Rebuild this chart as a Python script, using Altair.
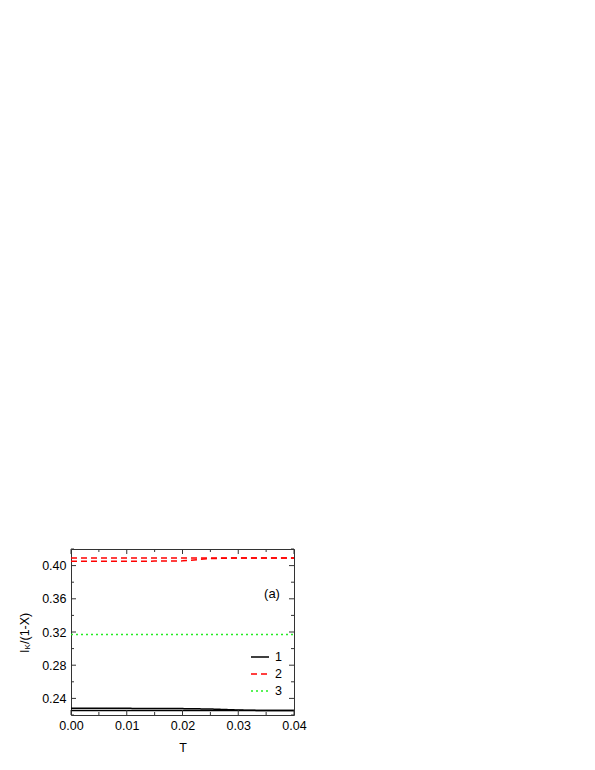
import altair as alt
import pandas as pd

# ---- data ----
T_vals = [0.000, 0.005, 0.010, 0.015, 0.020, 0.025, 0.030, 0.035, 0.040]
black_upper = [0.2281, 0.2281, 0.2280, 0.2279, 0.2277, 0.2272, 0.2260, 0.2253, 0.2253]
black_lower = [0.2253, 0.2253, 0.2253, 0.2253, 0.2253, 0.2253, 0.2253, 0.2253, 0.2253]
red_upper = [0.4092, 0.4092, 0.4092, 0.4092, 0.4092, 0.4092, 0.4092, 0.4092, 0.4092]
red_lower = [0.4052, 0.4052, 0.4053, 0.4054, 0.4057, 0.4085, 0.4092, 0.4092, 0.4092]
green_line = [0.3170, 0.3170, 0.3170, 0.3170, 0.3170, 0.3170, 0.3170, 0.3170, 0.3170]

series_names = ["1", "2", "3"]
series_colors = ["#000000", "#ff0000", "#22ee22"]
series_dashes = [[1, 0], [6, 4], [2, 3]]
series_widths = [1.5, 1.5, 2.2]

x_major = [0.00, 0.01, 0.02, 0.03, 0.04]
x_minor = [0.005, 0.015, 0.025, 0.035]
y_major = [0.24, 0.28, 0.32, 0.36, 0.40]
y_minor = [0.22, 0.26, 0.30, 0.34, 0.38, 0.42]

FONT = "Liberation Sans"
W, H = 223, 166

rows = []
for s, br, vals in [("1", "a", black_upper), ("1", "b", black_lower),
                    ("2", "a", red_upper), ("2", "b", red_lower),
                    ("3", "a", green_line)]:
    for t, v in zip(T_vals, vals):
        rows.append({"T": t, "v": v, "series": s, "branch": br})
df = pd.DataFrame(rows)

xscale = alt.Scale(domain=[0.0, 0.04], nice=False, zero=False)
yscale = alt.Scale(domain=[0.22, 0.42], nice=False, zero=False)

x_axis = alt.Axis(values=x_major, format=".2f", ticks=False, tickSize=0,
                  domain=False, grid=False, labelFont=FONT, labelFontSize=12.5,
                  labelColor="black", labelPadding=4, labelFlush=False,
                  labelOverlap=False, titleFont=FONT,
                  titleFontSize=12.5, titleFontWeight="normal",
                  titleColor="black", titlePadding=10)
y_axis = alt.Axis(values=y_major, format=".2f", ticks=False, tickSize=0,
                  domain=False, grid=False, labelFont=FONT, labelFontSize=12.5,
                  labelColor="black", labelPadding=5, labelFlush=False,
                  labelOverlap=False)

leg = alt.Legend(orient="none", legendX=179, legendY=98, title=None,
                 symbolType="stroke", symbolSize=324, symbolStrokeWidth=1.6,
                 labelFont=FONT, labelFontSize=12.5, labelColor="black",
                 labelOffset=5, rowPadding=0, padding=0)

lines = alt.Chart(df).mark_line().encode(
    x=alt.X("T:Q", scale=xscale, title="T", axis=x_axis),
    y=alt.Y("v:Q", scale=yscale, title=None, axis=y_axis),
    color=alt.Color("series:N", scale=alt.Scale(domain=series_names, range=series_colors),
                    legend=leg),
    strokeDash=alt.StrokeDash("series:N",
                              scale=alt.Scale(domain=series_names, range=series_dashes),
                              legend=leg),
    strokeWidth=alt.StrokeWidth("series:N",
                                scale=alt.Scale(domain=series_names, range=series_widths),
                                legend=None),
    detail="branch:N",
)

tick_color = "#333333"
xmaj = pd.DataFrame({"T": x_major})
xmin = pd.DataFrame({"T": x_minor})
ymaj = pd.DataFrame({"v": y_major})
ymin = pd.DataFrame({"v": y_minor})

def xticks(d, y0, y1):
    return alt.Chart(d).mark_rule(color=tick_color, strokeWidth=1).encode(
        x=alt.X("T:Q", scale=xscale, title="T", axis=x_axis),
        y=alt.value(y0), y2=alt.value(y1))

def yticks(d, x0, x1):
    return alt.Chart(d).mark_rule(color=tick_color, strokeWidth=1).encode(
        y=alt.Y("v:Q", scale=yscale, title=None, axis=y_axis),
        x=alt.value(x0), x2=alt.value(x1))

ticks = [
    xticks(xmaj, H, H - 5), xticks(xmin, H, H - 3),
    xticks(xmaj, 0, 5), xticks(xmin, 0, 3),
    yticks(ymaj, 0, 5), yticks(ymin, 0, 3),
    yticks(ymaj, W, W - 5), yticks(ymin, W, W - 3),
]

one = pd.DataFrame({"k": [0]})
label_a = alt.Chart(one).mark_text(font=FONT, fontSize=13, color="black").encode(
    x=alt.value(201), y=alt.value(45), text=alt.value("(a)"))

t_I = alt.Chart(one).mark_text(font=FONT, fontSize=12.5, color="black", angle=270,
                               align="left", baseline="middle").encode(
    x=alt.value(-46), y=alt.value(104), text=alt.value("I"))
t_K = alt.Chart(one).mark_text(font=FONT, fontSize=8, color="black", angle=270,
                               align="left", baseline="middle").encode(
    x=alt.value(-43), y=alt.value(100.5), text=alt.value("K"))
t_rest = alt.Chart(one).mark_text(font=FONT, fontSize=12.5, color="black", angle=270,
                                  align="left", baseline="middle").encode(
    x=alt.value(-46), y=alt.value(95), text=alt.value("/(1-X)"))

chart = alt.layer(lines, *ticks, label_a, t_I, t_K, t_rest).properties(
    width=W, height=H,
    autosize=alt.AutoSizeParams(type="none"),
    padding={"left": 63, "top": 541, "right": 20, "bottom": 40},
).configure_view(stroke="#333333", strokeWidth=1)

chart.save("out.html", embed_options={"renderer": "svg", "actions": False})
